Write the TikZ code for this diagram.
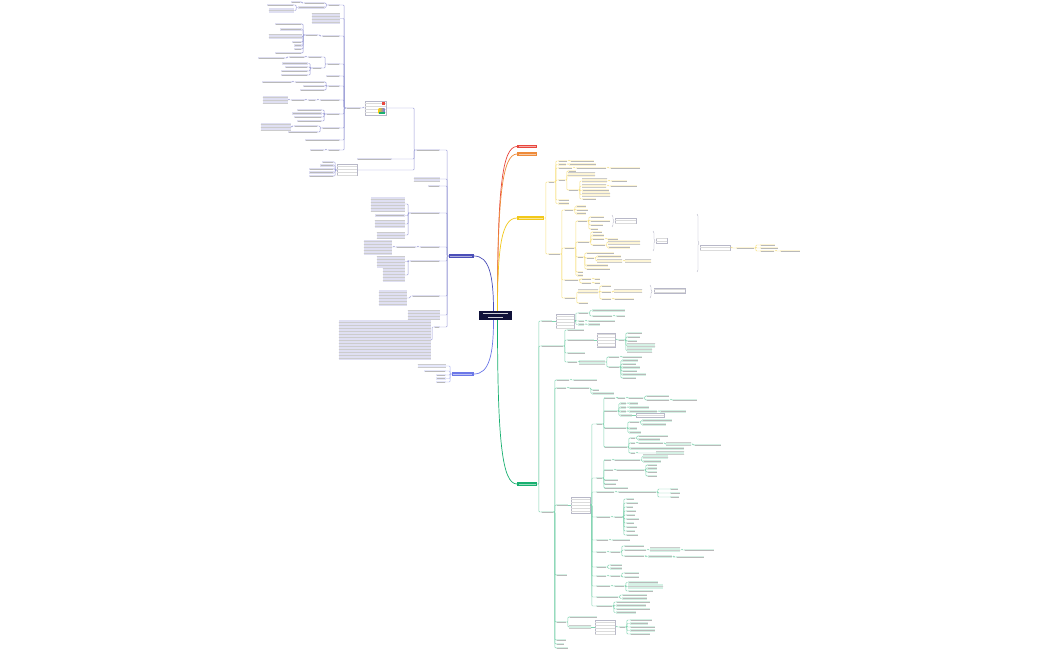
\documentclass[tikz,border=0pt]{standalone}
\usetikzlibrary{patterns,decorations.pathreplacing}

\definecolor{navy}{HTML}{10123A}
\definecolor{cred}{HTML}{E8473E}
\definecolor{corg}{HTML}{EE8B3A}
\definecolor{cyel}{HTML}{F2C81A}
\definecolor{cgrn}{HTML}{18B070}
\definecolor{cpur}{HTML}{4B4FB8}
\definecolor{cblu}{HTML}{6C78E8}
\definecolor{cgry}{HTML}{9A9AB0}

\tikzset{
  root/.style={rectangle, inner sep=0pt, fill=navy, minimum width=33pt, minimum height=9pt,
    path picture={
      \draw[white!80!navy, line width=0.8pt] ([shift={(4pt,-2.6pt)}]path picture bounding box.north west) -- ([shift={(-4pt,-2.6pt)}]path picture bounding box.north east);
      \draw[white!80!navy, line width=0.8pt] ([shift={(9pt,2.6pt)}]path picture bounding box.south west) -- ([shift={(-9pt,2.6pt)}]path picture bounding box.south east);}},
  hub/.style={rectangle, inner sep=0pt, fill=#1, minimum height=3.4pt,
    path picture={\draw[#1!45!white, line width=0.7pt] ([xshift=1.5pt]path picture bounding box.west) -- ([xshift=-1.5pt]path picture bounding box.east);}},
  leaf/.style={rectangle, inner sep=0pt, fill=#1!18,
    path picture={\draw[gray!55, line width=0.6pt] ([xshift=0.7pt]path picture bounding box.west) -- ([xshift=-0.7pt]path picture bounding box.east);}},
  block/.style={rectangle, inner sep=0pt, fill=#1!18, postaction={pattern=horizontal lines, pattern color=gray!40}},
  note/.style={rectangle, inner sep=0pt, draw=cgry!70, line width=0.3pt, fill=white, postaction={pattern=horizontal lines, pattern color=gray!28}},
  twig/.style={draw=#1!55, line width=0.45pt, rounded corners=0.8pt},
  stem/.style={draw=#1, line width=0.7pt},
  brk/.style={draw=cgry!80, line width=0.4pt},
}

% children to the right: name/x/y/width/height, x = left edge
\newcommand{\grow}[3]{%
  \foreach \n/\x/\y/\w/\h in {#3}{%
    \ifdim\h pt>3pt
      \node[block=#2, minimum width=\w pt, minimum height=\h pt, anchor=west] (\n) at (\x,\y) {};
    \else
      \node[leaf=#2, minimum width=\w pt, minimum height=\h pt, anchor=west] (\n) at (\x,\y) {};
    \fi
    \draw[twig=#2] (#1.east) -- ++(1.5,0) |- (\n.west);
  }}
% children to the left: name/x/y/width/height, x = right edge
\newcommand{\growl}[3]{%
  \foreach \n/\x/\y/\w/\h in {#3}{%
    \ifdim\h pt>3pt
      \node[block=#2, minimum width=\w pt, minimum height=\h pt, anchor=east] (\n) at (\x,\y) {};
    \else
      \node[leaf=#2, minimum width=\w pt, minimum height=\h pt, anchor=east] (\n) at (\x,\y) {};
    \fi
    \draw[twig=#2] (#1.west) -- ++(-1.5,0) |- (\n.east);
  }}
\newcommand{\bracegrp}[3]{\draw[brk, decorate, decoration={brace, amplitude=2pt}] (#1,#2) -- (#1,#3);}

\begin{document}
\begin{tikzpicture}[x=1pt, y=-1pt]
  \fill[white] (0,0) rectangle (1050,650);
  \useasboundingbox (0,0) rectangle (1050,650);

  % centre and main branches
  \node[root] (root) at (495.5,315.5) {};
  \node[hub=cred, minimum width=20pt, anchor=west] (bred) at (517,146.5) {};
  \node[hub=corg, minimum width=20pt, anchor=west] (borg) at (517,154) {};
  \node[hub=cyel, minimum width=27pt, anchor=west] (byel) at (517,218) {};
  \node[hub=cgrn, minimum width=20pt, anchor=west] (bgrn) at (517,484) {};
  \node[hub=cpur, minimum width=25pt, anchor=east] (bpur) at (474,256) {};
  \node[hub=cblu, minimum width=22pt, anchor=east] (bblu) at (474,374) {};

  \draw[stem=cred] ([xshift=2pt]root.north) .. controls (497.5,190) and (502,146.5) .. (bred.west);
  \draw[stem=corg] ([xshift=2pt]root.north) .. controls (497.5,200) and (502,154) .. (borg.west);
  \draw[stem=cyel] ([xshift=2pt]root.north) .. controls (497.5,245) and (502,218) .. (byel.west);
  \draw[stem=cgrn] ([xshift=2pt]root.south) .. controls (497.5,440) and (502,484) .. (bgrn.west);
  \draw[stem=cpur] ([xshift=-2pt]root.north) .. controls (493.5,275) and (489,256) .. (bpur.east);
  \draw[stem=cblu] ([xshift=-2pt]root.south) .. controls (493.5,355) and (489,374) .. (bblu.east);

  % yellow branch
  \grow{byel}{cyel}{y1/548/182/6/2.4, y2/548/254/12/2.4}
  \grow{y1}{cyel}{y1a/558/161/9/2.4, y1b/558/164.5/8/2.4, y1c/558/168/14/2.4, y1d/558/180/7/2.4, y1e/558/200/11/2.4, y1f/558/203.5/11/2.4}
  \grow{y1a}{cyel}{y1a1/570/161/24/2.4}
  \grow{y1b}{cyel}{y1b1/569/164.5/27/2.4}
  \grow{y1c}{cyel}{y1c1/576/168/30/2.4}
  \grow{y1c1}{cyel}{y1c2/610/168/30/2.4}
  \grow{y1d}{cyel}{y1d1/568/171/8/2.4, y1d2/568/175/27/4.5, y1d3/568/190/10/2.4}
  \grow{y1d3}{cyel}{y1g1/582/181/25/4.5, y1g2/582/186/24/4.5, y1g3/582/190.5/27/2.4, y1g4/582/194.5/28/4.5, y1g5/582/199/14/2.4}
  \grow{y1g1}{cyel}{y1h1/611/181/16/2.4}
  \grow{y1g2}{cyel}{y1h2/610/186/27/2.4}

  \grow{y2}{cyel}{y2a/564/210/9/2.4, y2b/564/248/10/2.4, y2c/564/280/14/2.4, y2d/564/298/11/2.4}
  \grow{y2a}{cyel}{y2a1/576/206.5/10/2.4, y2a2/576/210/12/2.4, y2a3/576/213.5/10/2.4}
  \grow{y2b}{cyel}{y2b1/577/221/10/2.4, y2b2/577/242/12/2.4, y2b3/577/257/6/2.4, y2b4/577/272/6/2.4, y2b5/577/275.5/6/2.4}
  \grow{y2b1}{cyel}{yb11/590/217/14/2.4, yb12/590/221/20/2.4, yb13/590/225/13/2.4, yb14/590/229/8/2.4}
  \bracegrp{612}{215}{227}
  \node[note, minimum width=21pt, minimum height=5pt, anchor=west] (yn1) at (615,221) {};
  \grow{y2b2}{cyel}{yb21/592/232/10/2.4, yb22/592/235.5/12/2.4, yb23/592/239/12/2.4, yb24/592/245/13/2.4}
  \grow{yb23}{cyel}{yb231/607/239/11/2.4}
  \grow{yb24}{cyel}{yb241/608/242/32/4.5, yb242/608/247.5/22/2.4}
  \bracegrp{653}{231}{251}
  \node[note, minimum width=11pt, minimum height=5pt, anchor=west] (yn2) at (656,241) {};
  \grow{y2b3}{cyel}{yb31/586/253/28/2.4, yb32/586/258/8/2.4, yb33/586/265.5/22/2.4, yb34/586/269/24/2.4}
  \grow{yb32}{cyel}{yb321/597/256.5/24/2.4, yb322/597/261/25/4.5}
  \grow{yb322}{cyel}{yb323/625/261/26/4.5}
  \bracegrp{697}{214}{272}
  \node[note, minimum width=30pt, minimum height=5pt, anchor=west] (yn3) at (700,248) {};
  \grow{yn3}{cyel}{yb4/736/248/18/2.4}
  \grow{yb4}{cyel}{yb41/760/245/15/2.4, yb42/760/248/18/2.4, yb43/760/251/14/2.4}
  \grow{yb43}{cyel}{yb44/780/251/20/2.4}
  \grow{y2c}{cyel}{yc1/581/279/10/2.4, yc2/581/283/10/2.4}
  \grow{yc1}{cyel}{yc11/594/279/6/2.4}
  \grow{yc2}{cyel}{yc21/594/283/6/2.4}
  \grow{y2d}{cyel}{yd1/578/292/20/4.5, yd2/578/303/10/2.4}
  \grow{yd1}{cyel}{yd11/601/286/10/2.4, yd12/601/292/10/2.4, yd13/601/299/10/2.4}
  \grow{yd12}{cyel}{yd121/614/291/28/4.5}
  \grow{yd13}{cyel}{yd131/614/299/20/2.4}
  \bracegrp{650}{285}{298}
  \node[note, minimum width=31pt, minimum height=5pt, anchor=west] (yn4) at (654,291) {};

  % green branch
  \grow{bgrn}{cgrn}{g1/541/321/11/2.4, g2/541/346/22/2.4, g3/541/512/12/2.4}
  \node[note, minimum width=18pt, minimum height=14pt, anchor=west] (gn1) at (556,321) {};
  \draw[twig=cgrn] (g1.east) -- (gn1.west);
  \grow{gn1}{cgrn}{g1a/578/313/10/2.4, g1b/578/321/6/2.4, g1c/578/324.5/6/2.4}
  \grow{g1a}{cgrn}{g1a1/592/310.5/33/2.4, g1a2/592/316/20/2.4}
  \grow{g1a2}{cgrn}{g1a3/616/316/9/2.4}
  \grow{g1b}{cgrn}{g1b1/588/321/27/2.4}
  \grow{g1c}{cgrn}{g1c1/588/324.5/12/2.4}
  \grow{g2}{cgrn}{g2a/567/330/17/2.4, g2b/567/340/27/2.4, g2c/567/353/18/2.4, g2d/567/362/10/2.4}
  \node[note, minimum width=18pt, minimum height=14pt, anchor=west] (gn2) at (597,340) {};
  \draw[twig=cgrn] (g2b.east) -- (gn2.west);
  \grow{gn2}{cgrn}{g2h/618/340/6/2.4}
  \grow{g2h}{cgrn}{g2h1/627/333/15/2.4, g2h2/627/337/13/2.4, g2h3/627/341/10/2.4, g2h4/627/345.5/28/4.5, g2h5/627/350.5/25/4.5}
  \grow{g2d}{cgrn}{g2d1/579/362/26/4.5}
  \grow{g2d1}{cgrn}{g2e/608/357/11/2.4, g2f/608/367/11/2.4}
  \grow{g2e}{cgrn}{g2e1/622/357/20/2.4}
  \grow{g2f}{cgrn}{g2f1/622/360.5/16/2.4, g2f2/622/364/14/2.4, g2f3/622/367.5/18/2.4, g2f4/622/371/15/2.4, g2f5/622/374.5/24/2.4, g2f6/622/378/14/2.4}

  \grow{g3}{cgrn}{g3a/556/380/13/2.4, g3b/556/388/10/2.4, g3c/556/505/12/2.4, g3d/556/575/11/2.4, g3e/556/622/10/2.4, g3f/556/640/10/2.4, g3g/556/644/8/2.4, g3h/556/648/12/2.4}
  \grow{g3a}{cgrn}{g3a1/573/380/24/2.4}
  \grow{g3b}{cgrn}{g3b1/569/388/20/2.4}
  \grow{g3b1}{cgrn}{g3b2/592/390/7/2.4, g3b3/592/393.5/22/2.4}
  \node[note, minimum width=19pt, minimum height=16pt, anchor=west] (gn3) at (571,505) {};
  \draw[twig=cgrn] (g3c.east) -- (gn3.west);
  \grow{gn3}{cgrn}{ga/596/424/6/2.4, gb/596/478/6/2.4, gc/596/492/18/2.4, gd/596/517/14/2.4, ge/596/540/12/2.4, gf/596/552/10/2.4, gg/596/567/10/2.4, gh/596/576/10/2.4, gi/596/586/14/2.4, gj/596/597/22/2.4, gk/596/606/16/2.4}
  \grow{ga}{cgrn}{ga1/604/398/11/2.4, ga2/604/411/13/2.4, ga3/604/428/22/2.4, ga4/604/447/23/2.4}
  \grow{ga1}{cgrn}{ga11/617/398/8/2.4}
  \grow{ga11}{cgrn}{ga12/628/398/15/2.4}
  \grow{ga12}{cgrn}{ga13/646/396/23/2.4, ga14/646/400/23/2.4}
  \grow{ga14}{cgrn}{ga15/672/400/25/2.4}
  \grow{ga2}{cgrn}{ga21/620/403.5/6/2.4, ga22/620/407.5/6/2.4, ga23/620/411.5/6/2.4, ga24/620/415.5/12/2.4}
  \grow{ga21}{cgrn}{ga25/629/403.5/9/2.4}
  \grow{ga22}{cgrn}{ga26/629/407.5/20/2.4}
  \grow{ga23}{cgrn}{ga27/629/411.5/28/2.4}
  \grow{ga27}{cgrn}{ga28/660/411.5/26/2.4}
  \node[note, minimum width=28pt, minimum height=4pt, anchor=west] (gn5) at (636,415.5) {};
  \draw[twig=cgrn] (ga24.east) -- (gn5.west);
  \grow{ga3}{cgrn}{ga31/629/422/10/2.4, ga32/629/428.5/8/2.4, ga33/629/432.5/12/2.4}
  \grow{ga31}{cgrn}{ga34/642/420.5/30/2.4, ga35/642/424.5/24/2.4}
  \grow{ga4}{cgrn}{ga41/630/438/5/2.4, ga42/630/443/5/2.4, ga43/630/448.5/54/2.4, ga44/630/453/5/2.4}
  \grow{ga41}{cgrn}{ga45/638/436/30/2.4, ga46/638/439.5/22/2.4}
  \grow{ga42}{cgrn}{ga47/638/443/25/2.4}
  \grow{ga47}{cgrn}{ga48/666/444/25/4.5}
  \grow{ga48}{cgrn}{ga49/694/445/27/2.4}
  \grow{ga44}{cgrn}{ga4a/656/453/28/4.5}
  \grow{gb}{cgrn}{gb1/604/460/7/2.4, gb2/604/470/9/2.4, gb3/604/480/14/2.4, gb4/604/484/12/2.4, gb5/604/488/24/2.4}
  \grow{gb1}{cgrn}{gb11/614/460/26/2.4}
  \grow{gb11}{cgrn}{gb12/643/456.5/25/4.5, gb13/643/461.5/18/2.4}
  \grow{gb2}{cgrn}{gb21/616/470/28/2.4}
  \grow{gb21}{cgrn}{gb22/647/465/10/2.4, gb23/647/468.5/10/2.4, gb24/647/472/10/2.4, gb25/647/476/10/2.4}
  \grow{gc}{cgrn}{gc1/618/492/38/2.4}
  \grow{gc1}{cgrn}{gc2/670/489/8/2.4, gc3/670/493/10/2.4, gc4/670/497/9/2.4}
  \grow{gd}{cgrn}{gd1/614/517/8/2.4}
  \grow{gd1}{cgrn}{gd2/626/499/8/2.4, gd3/626/503/12/2.4, gd4/626/507/7/2.4, gd5/626/511/10/2.4, gd6/626/515/9/2.4, gd7/626/519/13/2.4, gd8/626/523/8/2.4, gd9/626/527/11/2.4, gda/626/531/9/2.4, gdb/626/535/12/2.4}
  \grow{ge}{cgrn}{ge1/612/540/18/2.4}
  \grow{gf}{cgrn}{gf1/610/552/10/2.4}
  \grow{gf1}{cgrn}{gf2/624/546/20/2.4, gf3/624/550/22/2.4, gf4/624/556/20/2.4}
  \grow{gf3}{cgrn}{gf5/650/550/30/4.5}
  \grow{gf5}{cgrn}{gf6/684/550/30/2.4}
  \grow{gf4}{cgrn}{gf7/648/556.5/24/2.4}
  \grow{gf7}{cgrn}{gf8/676/557/28/2.4}
  \grow{gg}{cgrn}{gg1/610/565/12/2.4, gg2/610/568.5/12/2.4}
  \grow{gh}{cgrn}{gh1/610/576/10/2.4}
  \grow{gh1}{cgrn}{gh2/624/573/15/2.4, gh3/624/577/15/2.4}
  \grow{gi}{cgrn}{gi1/614/586/10/2.4}
  \grow{gi1}{cgrn}{gi2/628/582.5/30/2.4, gi3/628/586.5/35/4.5, gi4/628/591/25/2.4}
  \grow{gj}{cgrn}{gj1/622/595/25/2.4, gj2/622/598.5/25/2.4}
  \grow{gk}{cgrn}{gk1/616/602/34/2.4, gk2/616/605.5/30/2.4, gk3/616/609/34/2.4, gk4/616/612.5/20/2.4}
  \grow{g3e}{cgrn}{g3e1/569/617/28/2.4, g3e2/569/627/22/4.5}
  \node[note, minimum width=20pt, minimum height=14pt, anchor=west] (gn4) at (595,627) {};
  \draw[twig=cgrn] (g3e2.east) -- (gn4.west);
  \grow{gn4}{cgrn}{g3e3/619/627/6/2.4}
  \grow{g3e3}{cgrn}{g3e4/630/620/22/2.4, g3e5/630/623.5/18/2.4, g3e6/630/627/25/2.4, g3e7/630/630.5/25/2.4, g3e8/630/634/20/2.4}

  % purple branch
  \growl{bpur}{cpur}{p0/440/150/24/2.4, p1/440/179/26/4.5, p2/440/186/12/2.4, p3/440/213/30/2.4, p4/440/247/20/2.4, p5/440/261/30/2.4, p6/440/296/28/2.4, p7/440/315/32/9, p8/440/327/6/2.4}
  \growl{p3}{cpur}{p3a/405/204/34/14, p3b/405/215.5/30/2.4, p3c/405/224/30/8, p3d/405/235/28/6}
  \growl{p4}{cpur}{p4a/416/247/20/2.4}
  \growl{p4a}{cpur}{p4b/392/247/28/15}
  \growl{p5}{cpur}{p5a/405/261.5/28/12, p5b/405/275/22/13}
  \growl{p6}{cpur}{p6a/407/298/28/16}
  \growl{p8}{cpur}{p8a/431/340/92/40}

  \node[note, minimum width=21pt, minimum height=14pt, anchor=east] (inote) at (386,108) {};
  \fill[cred] ([shift={(-4.5pt,-1.5pt)}]inote.north east) rectangle ++(3pt,-3pt);
  \shade[left color=cyel, right color=cblu] ([shift={(-7.5pt,1.5pt)}]inote.south east) rectangle ++(6pt,5pt);
  \fill[cgrn] ([shift={(-7.5pt,1.5pt)}]inote.south east) rectangle ++(6pt,1.5pt);
  \draw[twig=cpur] (p0.west) -- ++(-1.5,0) |- (inote.east);
  \growl{p0}{cpur}{p0a/392/159/35/2.4}
  \node[note, minimum width=20pt, minimum height=11pt, anchor=east] (pn) at (357,170) {};
  \draw[twig=cpur] (p0.west) -- ++(-1.5,0) |- (pn.east);
  \growl{pn}{cpur}{pn1/334/162/12/2.4, pn2/334/165.5/14/2.4, pn3/334/169/25/2.4, pn4/334/172.5/25/2.4, pn5/334/176/25/2.4}

  \growl{inote}{cpur}{tt/361/108/15/2.4}
  \growl{tt}{cpur}{t1/340/5/12/2.4, t2/340/18.5/28/11, t3/340/36/18/2.4, t4/340/64/13/2.4, t5/340/76/14/2.4, t6/340/86/12/2.4, t7/340/100/20/2.4, t8/340/114/14/2.4, t9/340/128/18/2.4, t10/340/140/35/2.4, t11/340/150/12/2.4}
  \growl{t1}{cpur}{t1a/325/3/21/2.4, t1b/325/7.5/27/2.4}
  \growl{t1a}{cpur}{t1c/301/2/10/2.4}
  \growl{t1b}{cpur}{t1d/294/5/27/2.4, t1e/294/10.5/25/4.5}
  \growl{t3}{cpur}{t3a/318/35/13/2.4}
  \growl{t3a}{cpur}{t3b/302/24/27/2.4, t3c/302/29.5/22/2.4, t3d/302/37/33/4.5, t3e/302/42/10/2.4, t3f/302/45.5/8/2.4, t3g/302/49/8/2.4, t3h/302/53/27/2.4}
  \growl{t4}{cpur}{t4a/322/57/14/2.4, t4b/322/68/10/2.4}
  \growl{t4a}{cpur}{t4c/305/57/16/2.4}
  \growl{t4c}{cpur}{t4d/285/58/27/2.4}
  \growl{t4b}{cpur}{t4e/308/63.5/26/2.4, t4f/308/67/23/2.4, t4g/308/71/27/2.4, t4h/308/75/27/2.4}
  \growl{t6}{cpur}{t6a/325/82/30/2.4, t6b/325/86/22/2.4, t6c/325/90/25/2.4}
  \growl{t6a}{cpur}{t6d/292/82/30/2.4}
  \growl{t7}{cpur}{t7a/316/100/8/2.4}
  \growl{t7a}{cpur}{t7b/305/100/14/2.4}
  \growl{t7b}{cpur}{t7c/288/100/25/7}
  \growl{t8}{cpur}{t8a/322/110/25/2.4, t8b/322/113.5/30/2.4, t8c/322/117/28/2.4, t8d/322/121/25/2.4}
  \growl{t9}{cpur}{t9a/318/126/24/2.4, t9b/318/132/30/2.4}
  \growl{t9a}{cpur}{t9c/291/127/30/7}
  \growl{t11}{cpur}{t11a/324/150/14/2.4}

  % blue branch
  \growl{bblu}{cblu}{q1/446/366/28/4.5, q2/446/371/22/2.4, q3/446/375/10/2.4, q4/446/378.5/10/2.4, q5/446/382/10/2.4}
\end{tikzpicture}
\end{document}
